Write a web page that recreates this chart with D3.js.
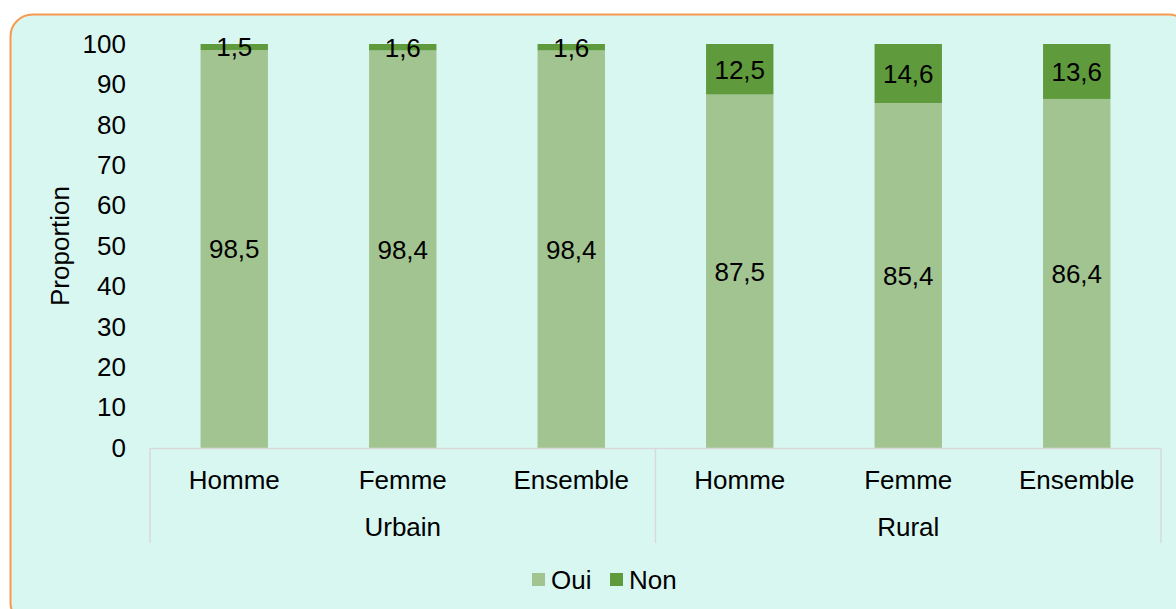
<!DOCTYPE html>
<html>
<head>
<meta charset="utf-8">
<script src="https://cdn.jsdelivr.net/npm/d3@7"></script>
<style>
  html, body { margin: 0; padding: 0; background: #ffffff; }
  svg { display: block; font-family: Arial, "Liberation Sans", sans-serif; }
</style>
</head>
<body>
<svg id="chart" width="1176" height="609"></svg>
<script>
// Categories: sex within area of residence
const groups = ["Urbain", "Rural"];
const categories = ["Homme", "Femme", "Ensemble", "Homme", "Femme", "Ensemble"];
const categoryGroup = ["Urbain", "Urbain", "Urbain", "Rural", "Rural", "Rural"];
// Series values (%)
const oui = [98.5, 98.4, 98.4, 87.5, 85.4, 86.4];
const non = [1.5, 1.6, 1.6, 12.5, 14.6, 13.6];
const seriesNames = ["Oui", "Non"];
const yTicks = [0, 10, 20, 30, 40, 50, 60, 70, 80, 90, 100];

const colors = { Oui: "#a2c490", Non: "#5f9a3c" };
const FONT = "Arial, 'Liberation Sans', sans-serif";
const FS = 26;

const svg = d3.select("#chart");

// Panel background with rounded orange frame
svg.append("rect")
  .attr("x", 10.5).attr("y", 14.5)
  .attr("width", 1180).attr("height", 610)
  .attr("rx", 22).attr("ry", 22)
  .attr("fill", "#d9f7f1")
  .attr("stroke", "#f79a4c")
  .attr("stroke-width", 2);

const plot = { left: 150, right: 1161, top: 44, bottom: 448 };

const idx = d3.range(categories.length);
const x = d3.scaleBand()
  .domain(idx)
  .range([plot.left, plot.right])
  .paddingInner(0.6)
  .paddingOuter(0.3);

const y = d3.scaleLinear().domain([0, 100]).range([plot.bottom, plot.top]);

// Stack the two series
const rows = idx.map(i => ({ i, Oui: oui[i], Non: non[i] }));
const stacked = d3.stack().keys(seriesNames)(rows);

const g = svg.append("g");

stacked.forEach(layer => {
  g.append("g").selectAll("rect")
    .data(layer)
    .join("rect")
    .attr("x", d => x(d.data.i))
    .attr("width", x.bandwidth())
    .attr("y", d => y(d[1]))
    .attr("height", d => y(d[0]) - y(d[1]))
    .attr("fill", colors[layer.key]);
});

// Value labels centred in each segment
const fmt = v => v.toFixed(1).replace(".", ",");
stacked.forEach(layer => {
  g.append("g").selectAll("text")
    .data(layer)
    .join("text")
    .attr("x", d => x(d.data.i) + x.bandwidth() / 2)
    .attr("y", d => (y(d[0]) + y(d[1])) / 2)
    .attr("dy", "0.36em")
    .attr("text-anchor", "middle")
    .attr("font-size", FS)
    .attr("fill", "#000")
    .text(d => fmt(d.data[layer.key]));
});

// Y axis (labels only, no line)
const yAxis = svg.append("g")
  .attr("transform", `translate(${plot.left},0)`)
  .call(d3.axisLeft(y).tickValues(yTicks).tickSize(0).tickPadding(24));
yAxis.select(".domain").remove();
yAxis.attr("font-size", FS).attr("font-family", FONT);
yAxis.selectAll("text").attr("fill", "#000");

// Y axis title
svg.append("text")
  .attr("transform", `translate(69,${(plot.top + plot.bottom) / 2}) rotate(-90)`)
  .attr("text-anchor", "middle")
  .attr("font-size", FS)
  .attr("fill", "#000")
  .text("Proportion");

// Category axis: baseline and group dividers
const axisColor = "#d9d9d9";
const lineBottom = 543;
svg.append("line")
  .attr("x1", plot.left).attr("x2", plot.right)
  .attr("y1", plot.bottom + 0.5).attr("y2", plot.bottom + 0.5)
  .attr("stroke", axisColor).attr("stroke-width", 1.5);

// group boundaries sit midway between adjacent bands
const groupStart = groups.map(gname => categoryGroup.indexOf(gname));
const boundaryX = [plot.left];
groupStart.slice(1).forEach(i => {
  boundaryX.push((x(i - 1) + x.bandwidth() + x(i)) / 2);
});
boundaryX.push(plot.right);

svg.append("g").selectAll("line")
  .data(boundaryX)
  .join("line")
  .attr("x1", d => d).attr("x2", d => d)
  .attr("y1", plot.bottom).attr("y2", lineBottom)
  .attr("stroke", axisColor).attr("stroke-width", 1.5);

// Category labels
svg.append("g").selectAll("text")
  .data(idx)
  .join("text")
  .attr("x", i => x(i) + x.bandwidth() / 2)
  .attr("y", 489)
  .attr("text-anchor", "middle")
  .attr("font-size", FS)
  .attr("fill", "#000")
  .text(i => categories[i]);

// Group labels
svg.append("g").selectAll("text")
  .data(groups)
  .join("text")
  .attr("x", (gname, k) => (boundaryX[k] + boundaryX[k + 1]) / 2)
  .attr("y", 536)
  .attr("text-anchor", "middle")
  .attr("font-size", FS)
  .attr("fill", "#000")
  .text(d => d);

// Legend
const legend = svg.append("g");
const legendItems = [
  { key: "Oui", x: 532 },
  { key: "Non", x: 610 }
];
legendItems.forEach(it => {
  legend.append("rect")
    .attr("x", it.x).attr("y", 573)
    .attr("width", 13).attr("height", 13)
    .attr("fill", colors[it.key]);
  legend.append("text")
    .attr("x", it.x + 19).attr("y", 589)
    .attr("font-size", FS)
    .attr("fill", "#000")
    .text(it.key);
});
</script>
</body>
</html>
